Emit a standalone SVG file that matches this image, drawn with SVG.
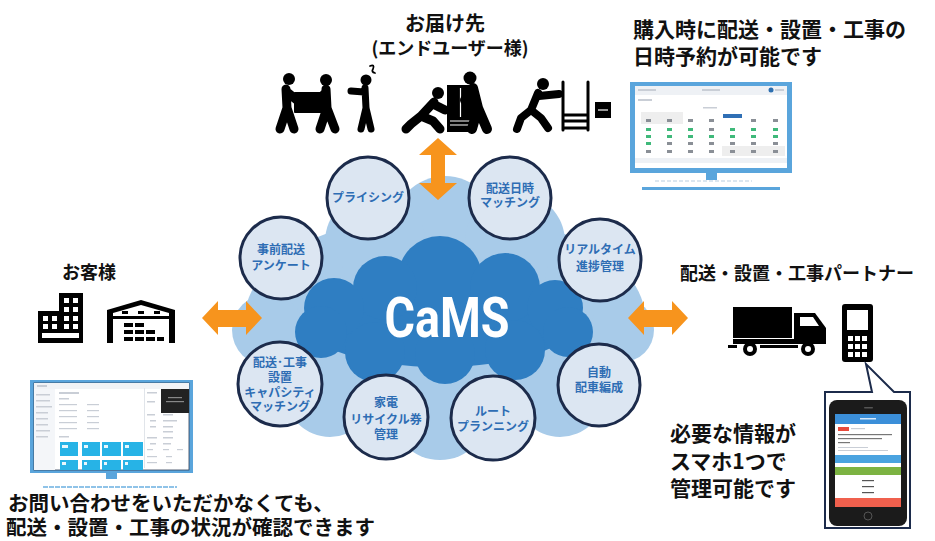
<svg xmlns="http://www.w3.org/2000/svg" width="935" height="541" viewBox="0 0 935 541">
  <defs>
    <style>
      .jp { font-family: "Noto Sans CJK JP", "Noto Sans", sans-serif; font-weight: 700; fill: #111; }
      .svc { font-family: "Noto Sans CJK JP", "Noto Sans", sans-serif; font-weight: 700; fill: #2e6db4; font-size: 12px; text-anchor: middle; }
      .bubble { fill: #dce6f2; stroke: #1c2b4b; stroke-width: 3; }
      .arrow { fill: #f7941d; }
      .ink { fill: #000; }
      .limb { stroke: #000; stroke-linecap: round; stroke-linejoin: round; fill: none; }
      .frame { fill: #5aa5dc; }
      .cell0 { fill: #8a8f96; }
      .cell1 { fill: #3fb97a; }
      .ui { fill: #c9ced6; }
      .tile { fill: #27b3e6; }
    </style>
  </defs>

  <rect width="935" height="541" fill="#ffffff"/>

  <!-- Cloud platform -->
  <g id="cloud">
    <g fill="#a8cbe9">
      <ellipse cx="445" cy="318" rx="200" ry="105"/>
      <circle cx="445" cy="228" r="52"/>
      <circle cx="375" cy="242" r="50"/>
      <circle cx="515" cy="242" r="50"/>
      <circle cx="300" cy="282" r="45"/>
      <circle cx="590" cy="282" r="45"/>
      <circle cx="268" cy="330" r="36"/>
      <circle cx="622" cy="330" r="32"/>
      <circle cx="330" cy="392" r="45"/>
      <circle cx="560" cy="392" r="45"/>
      <circle cx="440" cy="410" r="50"/>
    </g>
    <g fill="#2f7ec2">
      <ellipse cx="440" cy="322" rx="136" ry="45"/>
      <circle cx="440" cy="278" r="42"/>
      <circle cx="385" cy="288" r="32"/>
      <circle cx="505" cy="288" r="35"/>
      <circle cx="334" cy="308" r="30"/>
      <circle cx="555" cy="308" r="28"/>
      <circle cx="321" cy="332" r="26"/>
      <circle cx="568" cy="332" r="25"/>
      <circle cx="375" cy="352" r="30"/>
      <circle cx="445" cy="354" r="30"/>
      <circle cx="515" cy="350" r="30"/>
    </g>
    <text x="447" y="337" font-family="Roboto, 'Liberation Sans', sans-serif" font-weight="700" font-size="56" fill="#ffffff" text-anchor="middle" textLength="125" lengthAdjust="spacingAndGlyphs">CaMS</text>
  </g>

  <!-- Connectors -->
  <g id="connectors">
    <path class="arrow" d="M438,138 L457,155 L445,155 L445,183 L457,183 L438,200 L419,183 L431,183 L431,155 L419,155 Z"/>
    <path class="arrow" d="M202,318 L218,301 L218,310 L246,310 L246,301 L262,318 L246,335 L246,327 L218,327 L218,335 Z"/>
    <path class="arrow" d="M628,318 L644,301 L644,310 L672,310 L672,301 L688,318 L672,335 L672,327 L644,327 L644,335 Z"/>
  </g>

  <!-- Service circles -->
  <g id="svc-pricing">
    <circle class="bubble" cx="368" cy="198" r="41"/>
    <text class="svc" x="368" y="202">プライシング</text>
  </g>
  <g id="svc-date-matching">
    <circle class="bubble" cx="510" cy="198" r="41"/>
    <text class="svc" x="510" y="193">配送日時<tspan x="510" dy="14">マッチング</tspan></text>
  </g>
  <g id="svc-survey">
    <circle class="bubble" cx="281" cy="258" r="41"/>
    <text class="svc" x="281" y="254">事前配送<tspan x="281" dy="16">アンケート</tspan></text>
  </g>
  <g id="svc-tracking">
    <circle class="bubble" cx="600" cy="260" r="41"/>
    <text class="svc" x="600" y="254">リアルタイム<tspan x="600" dy="17">進捗管理</tspan></text>
  </g>
  <g id="svc-capacity">
    <circle class="bubble" cx="280" cy="384" r="42"/>
    <text class="svc" x="280" y="367" font-size="11.5">配送･工事<tspan x="280" dy="15">設置</tspan><tspan x="280" dy="15">キャパシティ</tspan><tspan x="280" dy="14">マッチング</tspan></text>
  </g>
  <g id="svc-dispatch">
    <circle class="bubble" cx="599" cy="385" r="41"/>
    <text class="svc" x="599" y="377">自動<tspan x="599" dy="15">配車編成</tspan></text>
  </g>
  <g id="svc-recycle">
    <circle class="bubble" cx="386" cy="417" r="42"/>
    <text class="svc" x="386" y="407">家電<tspan x="386" dy="17">リサイクル券</tspan><tspan x="386" dy="15">管理</tspan></text>
  </g>
  <g id="svc-route">
    <circle class="bubble" cx="493" cy="418" r="42"/>
    <text class="svc" x="493" y="416">ルート<tspan x="493" dy="15">プランニング</tspan></text>
  </g>

  <!-- End users (top) -->
  <g id="end-users">
    <text class="jp" x="445" y="31" font-size="20" text-anchor="middle">お届け先</text>
    <text class="jp" x="450" y="55" font-size="18" text-anchor="middle">(エンドユーザー様)</text>
    <!-- two movers carrying a box, customer pointing -->
    <rect class="ink" x="294" y="92" width="30" height="21" rx="1"/>
    <circle class="ink" cx="289" cy="79" r="6"/>
    <path class="limb" stroke-width="9" d="M286,89 L287,108 M287,108 L280,129 M287,108 L294,129 M287,92 L298,101"/>
    <circle class="ink" cx="326" cy="80" r="6"/>
    <path class="limb" stroke-width="9" d="M326,89 L327,108 M327,108 L320,129 M327,108 L335,129 M326,92 L318,101"/>
    <circle class="ink" cx="366" cy="80" r="5.5"/>
    <path class="limb" stroke-width="7" d="M365,88 L366,108 M366,108 L361,129 M366,108 L371,129 M364,92 L351,91"/>
    <path class="limb" stroke-width="1.8" d="M370,66 Q375,64 373,69 Q371,72 375,73"/>
    <!-- kneeling installer, fridge, helper -->
    <rect class="ink" x="447" y="85" width="27" height="47"/>
    <path stroke="#fff" stroke-width="1.2" d="M460.5,88 V117 M450,121 H471 M450,125 H471"/>
    <circle class="ink" cx="438" cy="93" r="6"/>
    <path class="limb" stroke-width="9" d="M434,102 L421,116 M421,116 L411,124 L406,129 M421,116 L433,121 L440,129 M433,104 L445,110"/>
    <circle class="ink" cx="470" cy="78" r="6.5"/>
    <path class="limb" stroke-width="10" d="M473,88 L478,108 M478,108 L472,129 M478,108 L487,129 M472,92 L465,100"/>
    <!-- worker pushing a hand truck -->
    <circle class="ink" cx="543" cy="84" r="6"/>
    <path class="limb" stroke-width="8" d="M538,93 L531,110 M531,110 L521,118 L517,129 M531,110 L541,118 L548,128 M539,96 L559,94"/>
    <path class="limb" stroke-width="3" d="M563,82 V130 M588,82 V130 M563,115 H588 M563,121 H588 M563,128 H588"/>
    <rect class="ink" x="595" y="102" width="16" height="16"/>
    <path stroke="#fff" stroke-width="1.2" d="M598,110 H608"/>
  </g>

  <!-- Reservation screen (top right) -->
  <g id="reservation-screen">
    <text class="jp" x="633" y="37" font-size="21">購入時に配送・設置・工事の<tspan x="633" dy="27">日時予約が可能です</tspan></text>
    <rect class="frame" x="630" y="82" width="162" height="91"/>
    <rect x="635" y="86" width="152" height="82" fill="#ffffff"/>
    <rect x="635" y="86" width="152" height="9" fill="#eef1f5"/>
    <rect class="ui" x="638" y="89" width="18" height="2"/>
    <rect class="ui" x="702" y="89" width="18" height="2"/>
    <circle cx="771" cy="90" r="2.5" fill="#2d6fb0"/>
    <rect class="ui" x="775" y="89" width="9" height="2"/>
    <rect class="ui" x="638" y="99" width="14" height="2"/>
    <rect class="ui" x="703" y="107" width="14" height="1.5"/>
    <rect x="641" y="112" width="42" height="12" fill="#eeeeee"/>
    <rect x="722" y="146" width="63" height="10" fill="#eeeeee"/>
    <rect x="723" y="114" width="19" height="4" fill="#2f6fb5"/>
    <g>
      <rect class="cell0" x="646" y="119" width="5" height="3"/><rect class="cell0" x="667" y="119" width="5" height="3"/><rect class="cell0" x="688" y="119" width="5" height="3"/><rect class="cell0" x="709" y="119" width="5" height="3"/><rect class="cell0" x="751" y="119" width="5" height="3"/><rect class="cell0" x="773" y="119" width="5" height="3"/>
      <rect class="cell1" x="646" y="128" width="5" height="3"/><rect class="cell1" x="667" y="128" width="5" height="3"/><rect class="cell1" x="688" y="128" width="5" height="3"/><rect class="cell0" x="709" y="128" width="5" height="3"/><rect class="cell1" x="730" y="128" width="5" height="3"/><rect class="cell1" x="751" y="128" width="5" height="3"/><rect class="cell1" x="773" y="128" width="5" height="3"/>
      <rect class="cell1" x="646" y="135" width="5" height="3"/><rect class="cell1" x="667" y="135" width="5" height="3"/><rect class="cell1" x="688" y="135" width="5" height="3"/><rect class="cell1" x="709" y="135" width="5" height="3"/><rect class="cell1" x="730" y="135" width="5" height="3"/><rect class="cell1" x="751" y="135" width="5" height="3"/><rect class="cell1" x="773" y="135" width="5" height="3"/>
      <rect class="cell1" x="646" y="142" width="5" height="3"/><rect class="cell0" x="667" y="142" width="5" height="3"/><rect class="cell0" x="688" y="142" width="5" height="3"/><rect class="cell0" x="709" y="142" width="5" height="3"/><rect class="cell0" x="730" y="142" width="5" height="3"/><rect class="cell0" x="751" y="142" width="5" height="3"/><rect class="cell0" x="773" y="142" width="5" height="3"/>
      <rect class="cell0" x="646" y="150" width="5" height="3"/><rect class="cell0" x="667" y="150" width="5" height="3"/><rect class="cell0" x="688" y="150" width="5" height="3"/><rect class="cell0" x="709" y="150" width="5" height="3"/><rect class="cell0" x="730" y="150" width="5" height="3"/><rect class="cell0" x="751" y="150" width="5" height="3"/><rect class="cell0" x="773" y="150" width="5" height="3"/>
    </g>
    <rect x="635" y="158" width="152" height="5" fill="#eef1f5"/>
    <rect class="frame" x="706" y="173" width="11" height="7"/>
    <line x1="655" y1="181" x2="752" y2="181" stroke="#b7cde0" stroke-width="1" stroke-dasharray="4 2"/>
    <rect class="frame" x="642" y="187" width="138" height="3"/>
  </g>

  <!-- Customers (left) -->
  <g id="customers">
    <text class="jp" x="62" y="279" font-size="18">お客様</text>
    <!-- office building -->
    <rect class="ink" x="59" y="293" width="24" height="50"/>
    <rect class="ink" x="38" y="311" width="24" height="32"/>
    <g fill="#fff">
      <rect x="64" y="298" width="5" height="5"/><rect x="73" y="298" width="5" height="5"/>
      <rect x="64" y="307" width="5" height="5"/><rect x="73" y="307" width="5" height="5"/>
      <rect x="64" y="316" width="5" height="5"/><rect x="73" y="316" width="5" height="5"/>
      <rect x="43" y="316" width="5" height="5"/><rect x="52" y="316" width="5" height="5"/>
      <rect x="43" y="324" width="5" height="5"/><rect x="52" y="324" width="5" height="5"/>
      <rect x="64" y="324" width="5" height="5"/><rect x="73" y="324" width="5" height="5"/>
      <rect x="42" y="333" width="37" height="5"/>
    </g>
    <!-- warehouse -->
    <path class="ink" d="M107,343 L107,310 L141,300 L175,310 L175,343 Z"/>
    <path fill="#fff" d="M113,343 L113,313 L141,305 L169,313 L169,343 Z"/>
    <g class="ink">
      <rect x="122" y="311" width="6" height="3"/><rect x="138" y="311" width="6" height="3"/><rect x="154" y="311" width="6" height="3"/>
      <rect x="113" y="316" width="56" height="3"/>
      <rect x="124" y="323" width="9" height="4"/><rect x="135" y="323" width="9" height="4"/>
      <rect x="124" y="330" width="9" height="4"/><rect x="135" y="330" width="9" height="4"/><rect x="146" y="330" width="9" height="4"/>
      <rect x="124" y="337" width="9" height="4"/><rect x="135" y="337" width="9" height="4"/><rect x="146" y="337" width="9" height="4"/><rect x="157" y="337" width="7" height="4"/>
    </g>
  </g>

  <!-- Status dashboard (bottom left) -->
  <g id="dashboard">
    <rect class="frame" x="30" y="380" width="163" height="93"/>
    <rect x="34" y="383" width="155" height="87" fill="#ffffff" stroke="#2d3e55" stroke-width="0.8"/>
    <rect x="34" y="383" width="155" height="6" fill="#f1f3f6"/>
    <rect x="34" y="389" width="21" height="81" fill="#f4f6f9"/>
    <g class="ui">
      <rect x="37" y="385" width="10" height="2"/>
      <rect x="36" y="394" width="14" height="1.5"/><rect x="36" y="400" width="14" height="1.5"/><rect x="36" y="406" width="16" height="1.5"/>
      <rect x="36" y="412" width="12" height="1.5"/><rect x="36" y="418" width="12" height="1.5"/><rect x="36" y="424" width="12" height="1.5"/>
      <rect x="36" y="430" width="14" height="1.5"/><rect x="36" y="436" width="12" height="1.5"/>
      <rect x="59" y="392" width="20" height="2"/>
      <rect x="59" y="398" width="10" height="1.5"/>
      <rect x="59" y="404" width="18" height="1.2"/><rect x="87" y="404" width="12" height="1.2"/>
      <rect x="59" y="410" width="18" height="1.2"/><rect x="87" y="410" width="12" height="1.2"/>
      <rect x="59" y="416" width="18" height="1.2"/><rect x="87" y="416" width="12" height="1.2"/>
      <rect x="59" y="422" width="18" height="1.2"/><rect x="87" y="422" width="12" height="1.2"/>
      <rect x="59" y="428" width="18" height="1.2"/><rect x="87" y="428" width="12" height="1.2"/>
      <rect x="59" y="436" width="10" height="1.5"/>
      <rect x="147" y="392" width="10" height="1.5"/><rect x="147" y="401" width="8" height="1.5"/>
      <rect x="147" y="414" width="8" height="1.5"/><rect x="163" y="414" width="10" height="1.5"/>
      <rect x="150" y="420" width="6" height="1.5"/><rect x="163" y="420" width="14" height="1.5"/>
      <rect x="150" y="426" width="6" height="1.5"/><rect x="163" y="426" width="10" height="1.5"/>
      <rect x="163" y="431" width="10" height="1.5"/>
      <rect x="147" y="437" width="10" height="1.5"/><rect x="163" y="437" width="10" height="1.5"/>
      <rect x="150" y="443" width="6" height="1.5"/><rect x="163" y="443" width="8" height="1.5"/>
      <rect x="147" y="449" width="6" height="1.2"/><rect x="163" y="449" width="6" height="1.2"/><rect x="177" y="449" width="6" height="1.2"/>
      <rect x="147" y="456" width="10" height="1.2"/><rect x="166" y="456" width="6" height="1.2"/>
      <rect x="147" y="462" width="10" height="1.2"/><rect x="166" y="462" width="6" height="1.2"/>
    </g>
    <rect x="144" y="388" width="1" height="80" fill="#e1e5ea"/>
    <rect x="161" y="389" width="28" height="24" fill="#222"/>
    <rect x="168" y="397" width="14" height="1.2" fill="#888"/>
    <rect x="166" y="401" width="18" height="1.2" fill="#888"/>
    <g>
      <rect class="tile" x="60" y="442" width="18" height="14"/>
      <rect class="tile" x="82" y="442" width="18" height="14"/>
      <rect class="tile" x="102" y="442" width="19" height="14"/>
      <rect class="tile" x="123" y="442" width="20" height="14"/>
      <rect class="tile" x="60" y="460" width="18" height="10"/>
      <rect class="tile" x="82" y="460" width="18" height="10"/>
      <rect class="tile" x="102" y="460" width="19" height="10"/>
      <rect class="tile" x="123" y="460" width="20" height="10"/>
    </g>
    <g fill="#e8f7fd">
      <rect x="62" y="445" width="6" height="3"/><rect x="84" y="445" width="4" height="3"/><rect x="104" y="445" width="4" height="3"/><rect x="125" y="445" width="4" height="3"/>
      <rect x="62" y="462" width="4" height="3"/><rect x="84" y="462" width="3" height="3"/><rect x="104" y="462" width="3" height="3"/><rect x="125" y="462" width="3" height="3"/>
    </g>
    <rect class="frame" x="106" y="473" width="11" height="6"/>
    <line x1="43" y1="487" x2="177" y2="487" stroke="#8fc3e8" stroke-width="2" stroke-dasharray="5 1"/>
    <text class="jp" x="8" y="511" font-size="20.5">お問い合わせをいただかなくても、<tspan x="6" dy="24">配送・設置・工事の状況が確認できます</tspan></text>
  </g>

  <!-- Delivery partners (right) -->
  <g id="partners">
    <text class="jp" x="680" y="280" font-size="18">配送・設置・工事パートナー</text>
    <!-- truck -->
    <rect class="ink" x="733" y="307" width="59" height="31"/>
    <path class="ink" d="M794,313 L815,313 L826,328 L826,343 L794,343 Z"/>
    <path fill="#fff" d="M800,317 L813,317 L819,326 L800,326 Z"/>
    <rect class="ink" x="733" y="339" width="93" height="5"/>
    <rect class="ink" x="728" y="345" width="9" height="3"/>
    <rect class="ink" x="760" y="345" width="38" height="3"/>
    <circle cx="750" cy="349" r="7" fill="#000"/><circle cx="750" cy="349" r="3" fill="#fff"/>
    <circle cx="808" cy="349" r="7" fill="#000"/><circle cx="808" cy="349" r="3" fill="#fff"/>
    <!-- handset -->
    <rect class="ink" x="842" y="304" width="31" height="58" rx="3"/>
    <rect x="847" y="310" width="21" height="20" fill="#fff"/>
    <g fill="#fff">
      <rect x="848" y="336" width="5" height="5"/><rect x="855" y="336" width="5" height="5"/><rect x="862" y="336" width="5" height="5"/>
      <rect x="848" y="344" width="5" height="5"/><rect x="855" y="344" width="5" height="5"/><rect x="862" y="344" width="5" height="5"/>
      <rect x="848" y="352" width="5" height="5"/><rect x="855" y="352" width="5" height="5"/><rect x="862" y="352" width="5" height="5"/>
    </g>
  </g>

  <!-- Smartphone app (bottom right) -->
  <g id="smartphone-app">
    <text class="jp" x="670" y="441" font-size="21">必要な情報が<tspan x="670" dy="28">スマホ1つで</tspan><tspan x="670" dy="27">管理可能です</tspan></text>
    <path d="M825,392 H872 L866,364 L894,392 H910 V528 H825 Z" fill="#ffffff" stroke="#1c2b4b" stroke-width="2"/>
    <rect x="829" y="400" width="78" height="126" rx="8" fill="#1b1b1b"/>
    <rect x="864" y="407" width="9" height="1.5" rx="0.7" fill="#555"/>
    <rect x="835" y="414" width="66" height="93" fill="#ffffff"/>
    <rect x="835" y="414" width="66" height="10" fill="#3b8fd9"/>
    <rect x="860" y="418" width="16" height="1.5" fill="#d6e9fa"/>
    <rect x="838" y="427" width="11" height="4" fill="#e84a3c"/>
    <rect x="851" y="428" width="14" height="1.2" class="ui"/>
    <rect x="838" y="434" width="54" height="1.2" fill="#777"/>
    <rect x="838" y="438" width="44" height="1.2" fill="#777"/>
    <rect x="838" y="442" width="12" height="1.2" fill="#777"/>
    <rect x="838" y="447" width="30" height="1" class="ui"/>
    <rect x="838" y="450" width="50" height="1" class="ui"/>
    <rect x="835" y="455" width="66" height="8" fill="#4aa3e0"/>
    <rect x="835" y="467" width="66" height="8" fill="#7cb342"/>
    <rect x="862" y="480" width="12" height="1.2" fill="#555"/>
    <rect x="862" y="486" width="12" height="1.2" fill="#555"/>
    <rect x="862" y="492" width="12" height="1.2" fill="#555"/>
    <rect x="835" y="498" width="66" height="9" fill="#f0604d"/>
    <circle cx="868" cy="516" r="4" fill="none" stroke="#555" stroke-width="1"/>
  </g>
</svg>
